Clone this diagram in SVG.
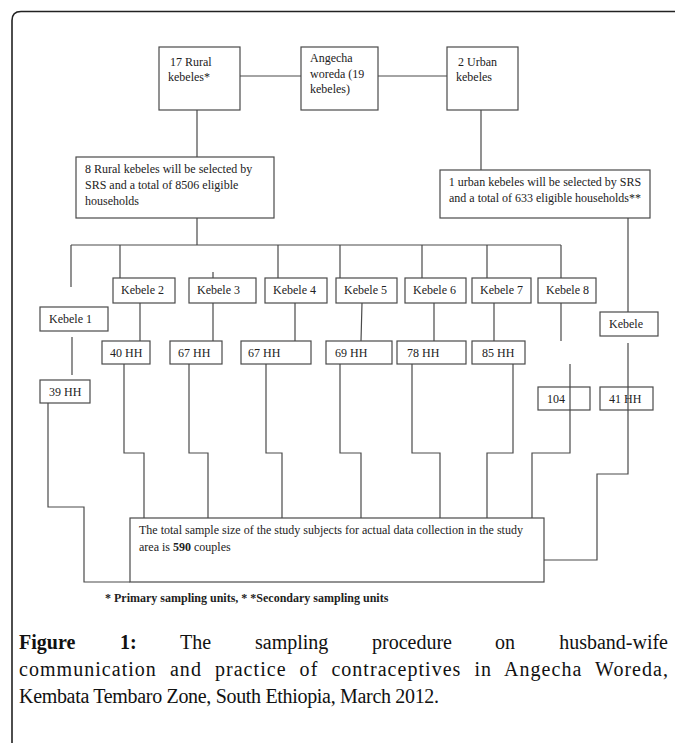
<svg xmlns="http://www.w3.org/2000/svg" width="675" height="743" viewBox="0 0 675 743">
<style>
.box{fill:#fff;stroke:#4a4a4a;stroke-width:1.2}
.ln{fill:none;stroke:#4a4a4a;stroke-width:1.2}
.t{font-family:"Liberation Serif","Times New Roman",serif;font-size:12px;fill:#222}
.cap{font-family:"Liberation Serif","Times New Roman",serif;font-size:20px;fill:#111}
</style>
<rect x="0" y="0" width="675" height="743" fill="#fff"/>
<path d="M675,11.5 H21 Q12,11.5 12,20.5 V743" fill="none" stroke="#222" stroke-width="1.6"/>

<g id="connectors">
<path class="ln" d="M240,76 H301 M378,76 H447"/>
<path class="ln" d="M197,110 V157 M197,218 V245 M71,245 H561"/>
<path class="ln" d="M481,110 V170 M628,218 V312"/>
<path class="ln" d="M71,245 V287 M120,245 V278 M213,272 V278 M278,245 V278 M340,245 V278 M422,245 V278 M487,245 V278 M561,245 V278"/>
<path class="ln" d="M72,337 V375 M140,303 V341 M213,303 V341 M295,303 V341 M362,303 L361,341 M434,303 V341 M494,303 V341 M561,303 V341"/>
<path class="ln" d="M48,403 V507 H84 V582 H130"/>
<path class="ln" d="M124,364 V453 H144 V518 M189,364 V453 H208 V518 M266,364 V453 H282 V518 M340,364 V453 H361 V518 M412,364 V453 H440 V518 M513,364 V453 H487 V518 M570,364 V453 H532 V518"/>
<path class="ln" d="M628,343 V474 H597 V560 H544"/>
</g>

<g id="rural17"><rect class="box" x="159" y="47" width="81" height="63"/><text class="t" x="170" y="66">17 Rural</text><text class="t" x="168" y="81">kebeles*</text></g>
<g id="angecha"><rect class="box" x="301" y="47" width="77" height="63"/><text class="t" x="310" y="62">Angecha</text><text class="t" x="310" y="78">woreda (19</text><text class="t" x="310" y="93">kebeles)</text></g>
<g id="urban2"><rect class="box" x="447" y="47" width="71" height="63"/><text class="t" x="458" y="66">2 Urban</text><text class="t" x="456" y="81">kebeles</text></g>

<g id="rural8"><rect class="box" x="76" y="157" width="198" height="61"/><text class="t" x="85" y="173">8 Rural kebeles will be selected by</text><text class="t" x="85" y="189">SRS and a total of 8506 eligible</text><text class="t" x="85" y="205">households</text></g>
<g id="urban1"><rect class="box" x="440" y="170" width="210" height="48"/><text class="t" x="545" y="186" text-anchor="middle">1 urban kebeles will be selected by SRS</text><text class="t" x="545" y="202" text-anchor="middle">and a total of 633 eligible households**</text></g>

<g id="k1"><rect class="box" x="40" y="307" width="68" height="24"/><text class="t" x="49" y="323">Kebele 1</text></g>
<g id="k2"><rect class="box" x="113" y="278" width="62" height="25"/><text class="t" x="121" y="294">Kebele 2</text></g>
<g id="k3"><rect class="box" x="189" y="278" width="67" height="25"/><text class="t" x="197" y="294">Kebele 3</text></g>
<g id="k4"><rect class="box" x="265" y="278" width="62" height="25"/><text class="t" x="273" y="294">Kebele 4</text></g>
<g id="k5"><rect class="box" x="336" y="278" width="61" height="25"/><text class="t" x="344" y="294">Kebele 5</text></g>
<g id="k6"><rect class="box" x="405" y="278" width="61" height="25"/><text class="t" x="413" y="294">Kebele 6</text></g>
<g id="k7"><rect class="box" x="472" y="278" width="59" height="25"/><text class="t" x="480" y="294">Kebele 7</text></g>
<g id="k8"><rect class="box" x="538" y="278" width="58" height="25"/><text class="t" x="546" y="294">Kebele 8</text></g>
<g id="ku"><rect class="box" x="600" y="312" width="58" height="24"/><text class="t" x="609" y="328">Kebele</text></g>

<g id="hh39"><rect class="box" x="40" y="380" width="50" height="23"/><text class="t" x="49" y="396">39 HH</text></g>
<g id="hh40"><rect class="box" x="102" y="341" width="48" height="23"/><text class="t" x="110" y="357">40 HH</text></g>
<g id="hh67a"><rect class="box" x="170" y="341" width="52" height="23"/><text class="t" x="178" y="357">67 HH</text></g>
<g id="hh67b"><rect class="box" x="241" y="341" width="70" height="23"/><text class="t" x="248" y="357">67 HH</text></g>
<g id="hh69"><rect class="box" x="326" y="341" width="66" height="23"/><text class="t" x="335" y="357">69 HH</text></g>
<g id="hh78"><rect class="box" x="397" y="341" width="69" height="23"/><text class="t" x="407" y="357">78 HH</text></g>
<g id="hh85"><rect class="box" x="472" y="341" width="53" height="23"/><text class="t" x="482" y="357">85 HH</text></g>
<g id="hh104"><rect class="box" x="538" y="387" width="52" height="23" style="fill:none"/><text class="t" x="547" y="403">104</text></g>
<g id="hh41"><rect class="box" x="600" y="387" width="53" height="23" style="fill:none"/><text class="t" x="609" y="403">41 HH</text></g>

<g id="total"><rect class="box" x="130" y="518" width="414" height="64"/><text class="t" x="139" y="534">The total sample size of the study subjects for actual data collection in the study</text><text class="t" x="139" y="551">area is <tspan font-weight="bold">590</tspan> couples</text></g>

<text class="t" x="105" y="602" font-weight="bold">* Primary sampling units, * *Secondary sampling units</text>

<g id="caption">
<text class="cap" y="649"><tspan x="19" font-weight="bold">Figure</tspan><tspan x="120" font-weight="bold">1:</tspan><tspan x="180">The</tspan><tspan x="255">sampling</tspan><tspan x="372">procedure</tspan><tspan x="495">on</tspan><tspan x="668" text-anchor="end">husband-wife</tspan></text>
<text class="cap" x="19" y="676" word-spacing="7" textLength="649" lengthAdjust="spacing">communication and practice of contraceptives in Angecha Woreda,</text>
<text class="cap" x="19" y="703" textLength="420" lengthAdjust="spacing">Kembata Tembaro Zone, South Ethiopia, March 2012.</text>
</g>
</svg>
